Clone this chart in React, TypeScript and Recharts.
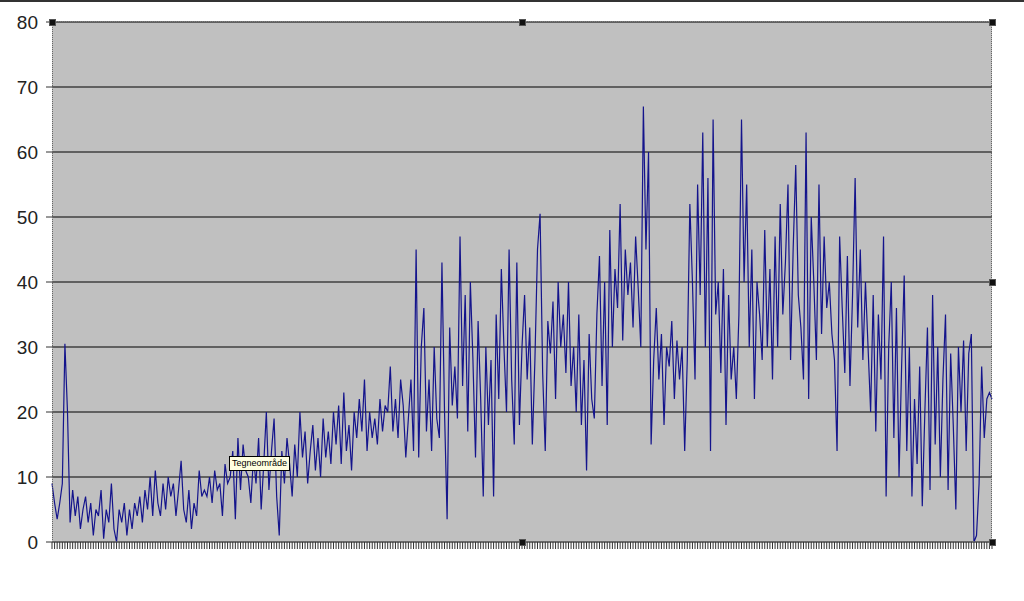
import React from "react";
import { LineChart, Line, XAxis, YAxis, CartesianGrid } from "recharts";

const values: number[] = [
  9, 6, 3.5, 6, 9, 30.5, 20, 3, 8, 4,
  7, 2, 5, 7, 3, 6, 1, 5, 4, 8,
  0.5, 5, 3, 9, 2, 0, 5, 3, 6, 1,
  5, 2, 6, 4, 7, 3, 8, 5, 10, 4,
  11, 6, 4, 9, 5, 10, 7, 9, 4, 8,
  12.5, 5, 3, 8, 2, 6, 4, 11, 7, 8,
  7, 10, 6, 11, 8, 9, 4, 12, 9, 10,
  14, 3.5, 16, 8, 15, 11, 10, 6, 13, 9,
  16, 5, 12, 20, 8, 14, 19, 7, 1, 14,
  9, 16, 12, 7, 15, 10, 20, 13, 17, 9,
  14, 18, 11, 16, 10, 19, 13, 17, 12, 20,
  15, 21, 12, 23, 14, 18, 11, 20, 16, 22,
  17, 25, 14, 20, 16, 19, 15, 22, 17, 21,
  20, 27, 17, 22, 16, 25, 21, 13, 19, 25,
  14, 45, 13, 30, 36, 17, 25, 14, 30, 19,
  16, 43, 20, 3.5, 33, 21, 27, 19, 47, 24,
  38, 17, 40, 28, 13, 34, 22, 7, 30, 18,
  28, 7, 35, 22, 42, 30, 20, 45, 25, 15,
  43, 18, 30, 38, 25, 33, 15, 28, 45, 50.5,
  26, 14, 34, 29, 37, 22, 40, 30, 35, 26,
  40, 24, 30, 20, 35, 18, 28, 11, 32, 22,
  19, 35, 44, 24, 40, 18, 48, 30, 42, 36,
  52, 31, 45, 38, 43, 33, 47, 39, 30, 67,
  45, 60, 15, 28, 36, 25, 32, 18, 30, 27,
  34, 22, 31, 25, 30, 14, 28, 52, 40, 25,
  55, 38, 63, 30, 56, 14, 65, 35, 40, 26,
  42, 18, 38, 25, 30, 22, 35, 65, 40, 55,
  30, 45, 22, 40, 35, 28, 48, 30, 42, 25,
  47, 30, 52, 35, 43, 55, 28, 45, 58, 38,
  33, 25, 63, 22, 50, 40, 28, 55, 32, 47,
  36, 40, 32, 28, 14, 47, 36, 26, 44, 24,
  38, 56, 33, 45, 28, 40, 30, 20, 38, 17,
  35, 25, 47, 7, 30, 40, 16, 36, 10, 27,
  41, 14, 30, 7, 22, 12, 27, 5.5, 20, 33,
  8, 38, 15, 30, 10, 25, 35, 8, 29, 18,
  5, 30, 20, 31, 14, 29, 32, 0, 1, 9,
  27, 16, 22, 23, 22,
];

const days: number[] = values.map((_, i) => i + 1);
const yTicks: number[] = [0, 10, 20, 30, 40, 50, 60, 70, 80];

const data = days.map((d, i) => ({ day: d, value: values[i] }));

const handle = (left: number, top: number): React.CSSProperties => ({
  position: "absolute",
  left: left - 3,
  top: top - 3,
  width: 5,
  height: 5,
  background: "#111",
  border: "1px solid #555",
  pointerEvents: "none",
});

const EmptyTick = () => <g />;

export default function App() {
  return (
    <div style={{ position: "absolute", left: 0, top: 0, width: 1024, height: 601, background: "#fff", overflow: "hidden" }}>
      <div style={{ position: "absolute", left: 0, top: 0, width: 1024, height: 2, background: "#333" }} />
      <LineChart width={1024} height={601} data={data} margin={{ top: 22, right: 32, bottom: 0, left: 0 }}>
        <CartesianGrid vertical={false} stroke="#000" strokeWidth={1} fill="#C0C0C0" fillOpacity={1} />
        <XAxis
          dataKey="day"
          interval={0}
          tick={EmptyTick}
          tickLine={{ stroke: "#333" }}
          tickSize={7}
          axisLine={{ stroke: "#777" }}
          height={59}
        />
        <YAxis
          domain={[0, 80]}
          ticks={yTicks}
          width={52}
          axisLine={false}
          tickLine={{ stroke: "#333" }}
          tickSize={6}
          tickMargin={8}
          tick={{ fontSize: 19, fill: "#222", fontFamily: "Liberation Sans, Arial, sans-serif" }}
        />
        <Line type="linear" dataKey="value" stroke="#14148c" strokeWidth={1.2} dot={false} isAnimationActive={false} />
      </LineChart>
      <div style={{ position: "absolute", left: 52, top: 21, width: 940, height: 521, border: "1px dotted #666", boxSizing: "border-box", pointerEvents: "none" }} />
      <div style={handle(52, 22)} />
      <div style={handle(522, 22)} />
      <div style={handle(992, 22)} />
      <div style={handle(992, 282)} />
      <div style={handle(992, 542)} />
      <div style={handle(522, 542)} />
      <div
        style={{
          position: "absolute",
          left: 229,
          top: 456,
          padding: "0 2px",
          height: 13,
          lineHeight: "13px",
          background: "#FFFFE1",
          border: "1px solid #000",
          fontSize: 9,
          fontFamily: "Liberation Sans, Arial, sans-serif",
          color: "#000",
          pointerEvents: "none",
          whiteSpace: "nowrap",
        }}
      >
        Tegneområde
      </div>
    </div>
  );
}
